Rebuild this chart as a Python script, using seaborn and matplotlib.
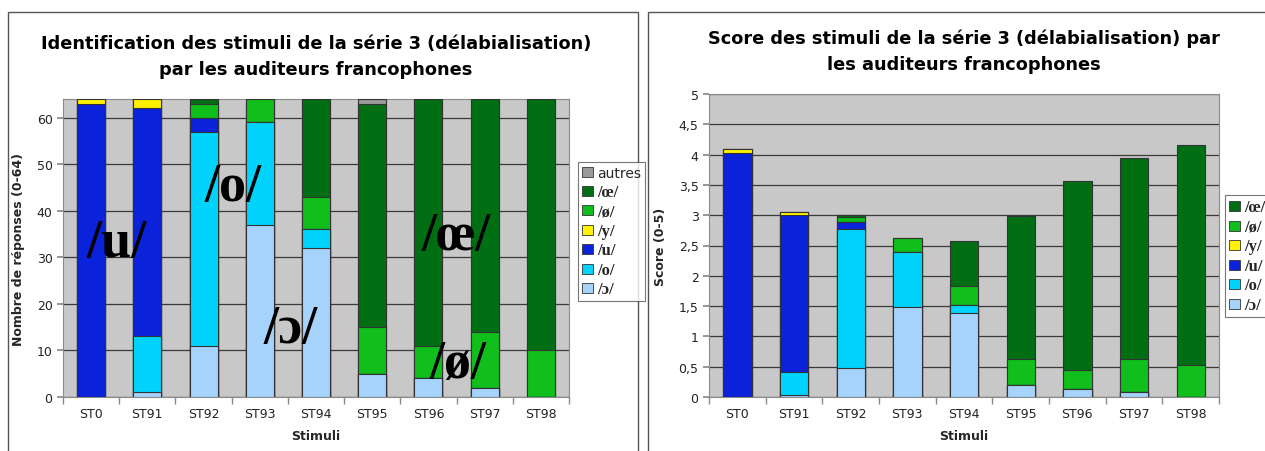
import numpy as np
import pandas as pd
import matplotlib.pyplot as plt
import seaborn as sns
from matplotlib.patches import Rectangle, Patch

# données
stimuli = ['ST0', 'ST91', 'ST92', 'ST93', 'ST94', 'ST95', 'ST96', 'ST97', 'ST98']
couches = ['/ɔ/', '/o/', '/u/', '/y/', '/ø/', '/œ/', 'autres']

# nombre de réponses (0-64)
rep_open_o = [0, 1, 11, 37, 32, 5, 4, 2, 0]
rep_o = [0, 12, 46, 22, 4, 0, 0, 0, 0]
rep_u = [63, 49, 3, 0, 0, 0, 0, 0, 0]
rep_y = [1, 2, 0, 0, 0, 0, 0, 0, 0]
rep_oe_slash = [0, 0, 3, 5, 7, 10, 7, 12, 10]
rep_oe = [0, 0, 1, 0, 21, 48, 53, 50, 54]
rep_autres = [0, 0, 0, 0, 0, 1, 0, 0, 0]

# score (0-5)
sc_open_o = [0, 0.03, 0.48, 1.48, 1.38, 0.20, 0.14, 0.08, 0]
sc_o = [0, 0.39, 2.30, 0.92, 0.13, 0, 0, 0, 0]
sc_u = [4.02, 2.58, 0.10, 0, 0, 0, 0, 0, 0]
sc_y = [0.08, 0.06, 0, 0, 0, 0, 0, 0, 0]
sc_oe_slash = [0, 0, 0.09, 0.22, 0.32, 0.43, 0.30, 0.55, 0.53]
sc_oe = [0, 0, 0.03, 0, 0.75, 2.35, 3.12, 3.31, 3.63]

couleurs = {'/ɔ/': '#A6D3FC', '/o/': '#00D4FC', '/u/': '#0A22DA', '/y/': '#FFF200',
            '/ø/': '#10BE1C', '/œ/': '#006F14', 'autres': '#9A9A9A'}

reponses = pd.DataFrame({'/ɔ/': rep_open_o, '/o/': rep_o, '/u/': rep_u, '/y/': rep_y,
                         '/ø/': rep_oe_slash, '/œ/': rep_oe, 'autres': rep_autres}, index=stimuli)
scores = pd.DataFrame({'/ɔ/': sc_open_o, '/o/': sc_o, '/u/': sc_u, '/y/': sc_y,
                       '/ø/': sc_oe_slash, '/œ/': sc_oe}, index=stimuli)

sns.set_theme(style='white')
plt.rcParams['font.family'] = ['DejaVu Sans']
serif = ['Liberation Serif', 'DejaVu Serif']

W, H = 1265, 452
fig = plt.figure(figsize=(W / 100, H / 100), dpi=100)

# cadres des deux graphiques
fig.patches.append(Rectangle((8 / W, -0.05), 630 / W, 1.05 - 13 / H, transform=fig.transFigure,
                             fill=False, edgecolor='#555555', lw=1))
fig.patches.append(Rectangle((648 / W, -0.05), 0.5, 1.05 - 13 / H, transform=fig.transFigure,
                             fill=False, edgecolor='#555555', lw=1))


def empile(ax, df):
    cols = list(df.columns)
    cum = df.cumsum(axis=1)
    # du haut vers le bas : chaque couche recouvre la précédente
    for c in reversed(cols):
        d = pd.DataFrame({'stim': df.index, 'val': cum[c].values})
        sns.barplot(data=d, x='stim', y='val', color=couleurs[c], width=0.5,
                    edgecolor='#333333', linewidth=0.8, saturation=1, ax=ax, zorder=3)
    ax.set_facecolor('#C8C8C8')
    ax.grid(axis='y', color='#3a3a3a', lw=0.9, zorder=0)
    ax.set_axisbelow(True)
    for s in ax.spines.values():
        s.set_color('#8a8a8a')
        s.set_linewidth(0.8)
    ax.set_xlim(-0.5, len(df) - 0.5)
    ax.set_xticks(np.arange(len(df)))
    ax.set_xticks(np.arange(len(df) + 1) - 0.5, minor=True)
    ax.tick_params(axis='x', which='major', length=0, labelsize=9, colors='#222222', pad=7)
    ax.tick_params(axis='x', which='minor', length=5, color='#8a8a8a', bottom=True)
    ax.tick_params(axis='y', length=4, color='#8a8a8a', labelsize=9, labelcolor='#222222', left=True)
    ax.set_xlabel('Stimuli', fontsize=9, fontweight='bold', labelpad=7)


def legende(ax, cols, x, y):
    handles = [Patch(facecolor=couleurs[c], edgecolor='#333333', lw=0.6, label=c) for c in cols]
    leg = fig.legend(handles=handles, loc='upper left', bbox_to_anchor=(x / W, 1 - y / H),
                     bbox_transform=fig.transFigure, frameon=True, fancybox=False,
                     handlelength=0.75, handleheight=0.75, handletextpad=0.3,
                     labelspacing=0.25, borderpad=0.3, borderaxespad=0, fontsize=10)
    leg.get_frame().set_edgecolor('#555555')
    leg.get_frame().set_linewidth(0.8)
    for t in leg.get_texts():
        if t.get_text() != 'autres':
            t.set_family(serif)
            t.set_fontweight('bold')
            t.set_fontsize(12)
        else:
            t.set_fontsize(10)


titre_kw = dict(fontsize=12.8, fontweight='bold', color='black', pad=18, linespacing=1.55)

# graphique de gauche : nombre de réponses
ax1 = fig.add_axes([63 / W, 54 / H, 506 / W, 298 / H])
empile(ax1, reponses)
ax1.set_ylim(0, 64)
ax1.set_yticks(range(0, 61, 10))
ax1.set_ylabel('Nombre de réponses (0-64)', fontsize=9, fontweight='bold', labelpad=8)
ax1.set_title('Identification des stimuli de la série 3 (délabialisation)\npar les auditeurs francophones',
              **titre_kw)
legende(ax1, list(reversed(couches)), 578, 163)

etiquettes = [('/u/', 0.45, 33), ('/o/', 2.52, 45), ('/ɔ/', 3.54, 14.5), ('/œ/', 6.5, 34.5), ('/ø/', 6.52, 7)]
for txt, xx, yy in etiquettes:
    ax1.text(xx, yy, txt, family=serif, fontweight='bold', fontsize=39,
             ha='center', va='center', color='black', zorder=5)

# graphique de droite : score
ax2 = fig.add_axes([709 / W, 54 / H, 510 / W, 303 / H])
empile(ax2, scores)
ax2.set_ylim(0, 5)
ax2.set_yticks(np.arange(0, 5.01, 0.5))
ax2.set_yticklabels([f'{v:g}'.replace('.', ',') for v in np.arange(0, 5.01, 0.5)])
ax2.set_ylabel('Score (0-5)', fontsize=9, fontweight='bold', labelpad=8)
ax2.set_title('Score des stimuli de la série 3 (délabialisation) par\nles auditeurs francophones',
              **titre_kw)
legende(ax2, list(reversed(couches[:-1])), 1225, 196)

fig.savefig('out.png', dpi=100)
